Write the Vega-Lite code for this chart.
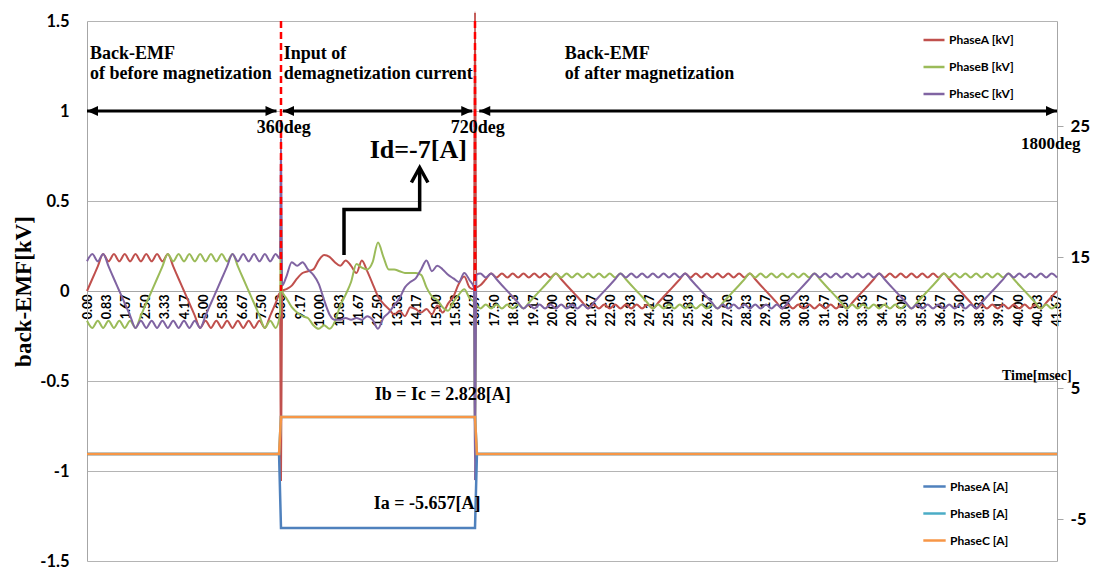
{
"$schema": "https://vega.github.io/schema/vega-lite/v6.json",
"width": 970, "height": 540,
"autosize": "none",
"padding": {"left": 87, "top": 21, "right": 54, "bottom": 7},
"background": "white",
"config": {"view": {"stroke": null}},
"datasets": {
"emf": [
{"t":0,"a":0,"b":-0.165,"c":0.165},
{"t":0.231,"a":0.068,"b":-0.205,"c":0.205},
{"t":0.463,"a":0.137,"b":-0.165,"c":0.165},
{"t":0.694,"a":0.205,"b":-0.205,"c":0.205},
{"t":0.926,"a":0.165,"b":-0.165,"c":0.137},
{"t":1.157,"a":0.205,"b":-0.205,"c":0.068},
{"t":1.389,"a":0.165,"b":-0.165,"c":0},
{"t":1.620,"a":0.205,"b":-0.205,"c":-0.068},
{"t":1.852,"a":0.165,"b":-0.165,"c":-0.137},
{"t":2.083,"a":0.205,"b":-0.205,"c":-0.205},
{"t":2.315,"a":0.165,"b":-0.137,"c":-0.165},
{"t":2.546,"a":0.205,"b":-0.068,"c":-0.205},
{"t":2.778,"a":0.165,"b":0,"c":-0.165},
{"t":3.009,"a":0.205,"b":0.068,"c":-0.205},
{"t":3.241,"a":0.165,"b":0.137,"c":-0.165},
{"t":3.472,"a":0.205,"b":0.205,"c":-0.205},
{"t":3.704,"a":0.137,"b":0.165,"c":-0.165},
{"t":3.935,"a":0.068,"b":0.205,"c":-0.205},
{"t":4.167,"a":0,"b":0.165,"c":-0.165},
{"t":4.398,"a":-0.068,"b":0.205,"c":-0.205},
{"t":4.630,"a":-0.137,"b":0.165,"c":-0.165},
{"t":4.861,"a":-0.205,"b":0.205,"c":-0.205},
{"t":5.093,"a":-0.165,"b":0.165,"c":-0.137},
{"t":5.324,"a":-0.205,"b":0.205,"c":-0.068},
{"t":5.556,"a":-0.165,"b":0.165,"c":0},
{"t":5.787,"a":-0.205,"b":0.205,"c":0.068},
{"t":6.019,"a":-0.165,"b":0.165,"c":0.137},
{"t":6.250,"a":-0.205,"b":0.205,"c":0.205},
{"t":6.481,"a":-0.165,"b":0.137,"c":0.165},
{"t":6.713,"a":-0.205,"b":0.068,"c":0.205},
{"t":6.944,"a":-0.165,"b":0,"c":0.165},
{"t":7.176,"a":-0.205,"b":-0.068,"c":0.205},
{"t":7.407,"a":-0.165,"b":-0.137,"c":0.165},
{"t":7.639,"a":-0.205,"b":-0.205,"c":0.205},
{"t":7.870,"a":-0.137,"b":-0.165,"c":0.165},
{"t":8.102,"a":-0.068,"b":-0.205,"c":0.205},
{"t":8.29,"a":-0.01,"b":-0.13,"c":0.18},
{"t":8.333,"a":-1.05,"b":0.5,"c":0.85},
{"t":8.38,"a":0,"b":0,"c":0.03},
{"t":8.565,"a":0.01,"b":-0.04,"c":0.08},
{"t":8.796,"a":0.03,"b":-0.09,"c":0.16},
{"t":9.028,"a":0.07,"b":-0.12,"c":0.14},
{"t":9.259,"a":0.10,"b":-0.14,"c":0.16},
{"t":9.491,"a":0.11,"b":-0.15,"c":0.12},
{"t":9.722,"a":0.12,"b":-0.19,"c":0.09},
{"t":9.954,"a":0.17,"b":-0.21,"c":0.04},
{"t":10.185,"a":0.20,"b":-0.19,"c":-0.05},
{"t":10.417,"a":0.19,"b":-0.21,"c":-0.13},
{"t":10.648,"a":0.16,"b":-0.17,"c":-0.16},
{"t":10.880,"a":0.14,"b":-0.08,"c":-0.16},
{"t":11.111,"a":0.17,"b":-0.02,"c":-0.15},
{"t":11.343,"a":0.14,"b":0.05,"c":-0.16},
{"t":11.574,"a":0.10,"b":0.15,"c":-0.15},
{"t":11.806,"a":0.17,"b":0.13,"c":-0.16},
{"t":12.037,"a":0.11,"b":0.12,"c":-0.14},
{"t":12.269,"a":0.04,"b":0.16,"c":-0.16},
{"t":12.500,"a":-0.03,"b":0.27,"c":-0.21},
{"t":12.731,"a":-0.07,"b":0.19,"c":-0.15},
{"t":12.963,"a":-0.10,"b":0.12,"c":-0.12},
{"t":13.194,"a":-0.13,"b":0.12,"c":-0.08},
{"t":13.426,"a":-0.11,"b":0.11,"c":-0.04},
{"t":13.657,"a":-0.14,"b":0.10,"c":0.02},
{"t":13.889,"a":-0.09,"b":0.10,"c":0.05},
{"t":14.120,"a":-0.10,"b":0.10,"c":0.07},
{"t":14.352,"a":-0.12,"b":0.09,"c":0.12},
{"t":14.583,"a":-0.10,"b":0.02,"c":0.17},
{"t":14.815,"a":-0.13,"b":-0.03,"c":0.11},
{"t":15.046,"a":-0.08,"b":-0.05,"c":0.14},
{"t":15.278,"a":-0.12,"b":-0.09,"c":0.12},
{"t":15.509,"a":-0.07,"b":-0.11,"c":0.09},
{"t":15.741,"a":-0.03,"b":-0.06,"c":0.07},
{"t":15.972,"a":0.04,"b":-0.02,"c":0.05},
{"t":16.204,"a":0.08,"b":0.01,"c":0.10},
{"t":16.435,"a":0.02,"b":-0.04,"c":0.06},
{"t":16.62,"a":0.01,"b":-0.06,"c":0.02},
{"t":16.667,"a":1.55,"b":-0.85,"c":-1.05},
{"t":16.72,"a":0.02,"b":-0.08,"c":0.09},
{"t":16.898,"a":0.032,"b":-0.097,"c":0.097},
{"t":17.130,"a":0.065,"b":-0.075,"c":0.075},
{"t":17.361,"a":0.097,"b":-0.097,"c":0.097},
{"t":17.593,"a":0.075,"b":-0.075,"c":0.065},
{"t":17.824,"a":0.097,"b":-0.097,"c":0.032},
{"t":18.056,"a":0.075,"b":-0.075,"c":0},
{"t":18.287,"a":0.097,"b":-0.097,"c":-0.032},
{"t":18.519,"a":0.075,"b":-0.075,"c":-0.065},
{"t":18.750,"a":0.097,"b":-0.097,"c":-0.097},
{"t":18.981,"a":0.075,"b":-0.065,"c":-0.075},
{"t":19.213,"a":0.097,"b":-0.032,"c":-0.097},
{"t":19.444,"a":0.075,"b":0,"c":-0.075},
{"t":19.676,"a":0.097,"b":0.032,"c":-0.097},
{"t":19.907,"a":0.075,"b":0.065,"c":-0.075},
{"t":20.139,"a":0.097,"b":0.097,"c":-0.097},
{"t":20.370,"a":0.065,"b":0.075,"c":-0.075},
{"t":20.602,"a":0.032,"b":0.097,"c":-0.097},
{"t":20.833,"a":0,"b":0.075,"c":-0.075},
{"t":21.065,"a":-0.032,"b":0.097,"c":-0.097},
{"t":21.296,"a":-0.065,"b":0.075,"c":-0.075},
{"t":21.528,"a":-0.097,"b":0.097,"c":-0.097},
{"t":21.759,"a":-0.075,"b":0.075,"c":-0.065},
{"t":21.991,"a":-0.097,"b":0.097,"c":-0.032},
{"t":22.222,"a":-0.075,"b":0.075,"c":0},
{"t":22.454,"a":-0.097,"b":0.097,"c":0.032},
{"t":22.685,"a":-0.075,"b":0.075,"c":0.065},
{"t":22.917,"a":-0.097,"b":0.097,"c":0.097},
{"t":23.148,"a":-0.075,"b":0.065,"c":0.075},
{"t":23.380,"a":-0.097,"b":0.032,"c":0.097},
{"t":23.611,"a":-0.075,"b":0,"c":0.075},
{"t":23.843,"a":-0.097,"b":-0.032,"c":0.097},
{"t":24.074,"a":-0.075,"b":-0.065,"c":0.075},
{"t":24.306,"a":-0.097,"b":-0.097,"c":0.097},
{"t":24.537,"a":-0.065,"b":-0.075,"c":0.075},
{"t":24.769,"a":-0.032,"b":-0.097,"c":0.097},
{"t":25.000,"a":0,"b":-0.075,"c":0.075},
{"t":25.231,"a":0.032,"b":-0.097,"c":0.097},
{"t":25.463,"a":0.065,"b":-0.075,"c":0.075},
{"t":25.694,"a":0.097,"b":-0.097,"c":0.097},
{"t":25.926,"a":0.075,"b":-0.075,"c":0.065},
{"t":26.157,"a":0.097,"b":-0.097,"c":0.032},
{"t":26.389,"a":0.075,"b":-0.075,"c":0},
{"t":26.620,"a":0.097,"b":-0.097,"c":-0.032},
{"t":26.852,"a":0.075,"b":-0.075,"c":-0.065},
{"t":27.083,"a":0.097,"b":-0.097,"c":-0.097},
{"t":27.315,"a":0.075,"b":-0.065,"c":-0.075},
{"t":27.546,"a":0.097,"b":-0.032,"c":-0.097},
{"t":27.778,"a":0.075,"b":0,"c":-0.075},
{"t":28.009,"a":0.097,"b":0.032,"c":-0.097},
{"t":28.241,"a":0.075,"b":0.065,"c":-0.075},
{"t":28.472,"a":0.097,"b":0.097,"c":-0.097},
{"t":28.704,"a":0.065,"b":0.075,"c":-0.075},
{"t":28.935,"a":0.032,"b":0.097,"c":-0.097},
{"t":29.167,"a":0,"b":0.075,"c":-0.075},
{"t":29.398,"a":-0.032,"b":0.097,"c":-0.097},
{"t":29.630,"a":-0.065,"b":0.075,"c":-0.075},
{"t":29.861,"a":-0.097,"b":0.097,"c":-0.097},
{"t":30.093,"a":-0.075,"b":0.075,"c":-0.065},
{"t":30.324,"a":-0.097,"b":0.097,"c":-0.032},
{"t":30.556,"a":-0.075,"b":0.075,"c":0},
{"t":30.787,"a":-0.097,"b":0.097,"c":0.032},
{"t":31.019,"a":-0.075,"b":0.075,"c":0.065},
{"t":31.250,"a":-0.097,"b":0.097,"c":0.097},
{"t":31.481,"a":-0.075,"b":0.065,"c":0.075},
{"t":31.713,"a":-0.097,"b":0.032,"c":0.097},
{"t":31.944,"a":-0.075,"b":0,"c":0.075},
{"t":32.176,"a":-0.097,"b":-0.032,"c":0.097},
{"t":32.407,"a":-0.075,"b":-0.065,"c":0.075},
{"t":32.639,"a":-0.097,"b":-0.097,"c":0.097},
{"t":32.870,"a":-0.065,"b":-0.075,"c":0.075},
{"t":33.102,"a":-0.032,"b":-0.097,"c":0.097},
{"t":33.333,"a":0,"b":-0.075,"c":0.075},
{"t":33.565,"a":0.032,"b":-0.097,"c":0.097},
{"t":33.796,"a":0.065,"b":-0.075,"c":0.075},
{"t":34.028,"a":0.097,"b":-0.097,"c":0.097},
{"t":34.259,"a":0.075,"b":-0.075,"c":0.065},
{"t":34.491,"a":0.097,"b":-0.097,"c":0.032},
{"t":34.722,"a":0.075,"b":-0.075,"c":0},
{"t":34.954,"a":0.097,"b":-0.097,"c":-0.032},
{"t":35.185,"a":0.075,"b":-0.075,"c":-0.065},
{"t":35.417,"a":0.097,"b":-0.097,"c":-0.097},
{"t":35.648,"a":0.075,"b":-0.065,"c":-0.075},
{"t":35.880,"a":0.097,"b":-0.032,"c":-0.097},
{"t":36.111,"a":0.075,"b":0,"c":-0.075},
{"t":36.343,"a":0.097,"b":0.032,"c":-0.097},
{"t":36.574,"a":0.075,"b":0.065,"c":-0.075},
{"t":36.806,"a":0.097,"b":0.097,"c":-0.097},
{"t":37.037,"a":0.065,"b":0.075,"c":-0.075},
{"t":37.269,"a":0.032,"b":0.097,"c":-0.097},
{"t":37.500,"a":0,"b":0.075,"c":-0.075},
{"t":37.731,"a":-0.032,"b":0.097,"c":-0.097},
{"t":37.963,"a":-0.065,"b":0.075,"c":-0.075},
{"t":38.194,"a":-0.097,"b":0.097,"c":-0.097},
{"t":38.426,"a":-0.075,"b":0.075,"c":-0.065},
{"t":38.657,"a":-0.097,"b":0.097,"c":-0.032},
{"t":38.889,"a":-0.075,"b":0.075,"c":0},
{"t":39.120,"a":-0.097,"b":0.097,"c":0.032},
{"t":39.352,"a":-0.075,"b":0.075,"c":0.065},
{"t":39.583,"a":-0.097,"b":0.097,"c":0.097},
{"t":39.815,"a":-0.075,"b":0.065,"c":0.075},
{"t":40.046,"a":-0.097,"b":0.032,"c":0.097},
{"t":40.278,"a":-0.075,"b":0,"c":0.075},
{"t":40.509,"a":-0.097,"b":-0.032,"c":0.097},
{"t":40.741,"a":-0.075,"b":-0.065,"c":0.075},
{"t":40.972,"a":-0.097,"b":-0.097,"c":0.097},
{"t":41.204,"a":-0.065,"b":-0.075,"c":0.075},
{"t":41.435,"a":-0.032,"b":-0.097,"c":0.097},
{"t":41.667,"a":0,"b":-0.075,"c":0.075}
],
"cur": [
{"t":0,"p":"A","i":0},{"t":8.25,"p":"A","i":0},{"t":8.333,"p":"A","i":-5.657},{"t":16.667,"p":"A","i":-5.657},{"t":16.75,"p":"A","i":0},{"t":41.667,"p":"A","i":0},
{"t":0,"p":"B","i":0},{"t":8.25,"p":"B","i":0},{"t":8.333,"p":"B","i":2.828},{"t":16.667,"p":"B","i":2.828},{"t":16.75,"p":"B","i":0},{"t":41.667,"p":"B","i":0},
{"t":0,"p":"C","i":0},{"t":8.25,"p":"C","i":0},{"t":8.333,"p":"C","i":2.828},{"t":16.667,"p":"C","i":2.828},{"t":16.75,"p":"C","i":0},{"t":41.667,"p":"C","i":0}
]
},
"encoding": {
"x": {"field": "t", "type": "quantitative", "scale": {"domain": [0, 41.667], "nice": false, "zero": false},
"axis": {"orient": "bottom", "offset": -270, "values": [0, 0.8333, 1.6667, 2.5, 3.3333, 4.1667, 5, 5.8333, 6.6667, 7.5, 8.3333, 9.1667, 10, 10.8333, 11.6667, 12.5, 13.3333, 14.1667, 15, 15.8333, 16.6667, 17.5, 18.3333, 19.1667, 20, 20.8333, 21.6667, 22.5, 23.3333, 24.1667, 25, 25.8333, 26.6667, 27.5, 28.3333, 29.1667, 30, 30.8333, 31.6667, 32.5, 33.3333, 34.1667, 35, 35.8333, 36.6667, 37.5, 38.3333, 39.1667, 40, 40.8333, 41.6667], "format": ".2f", "labelAngle": -90, "labelAlign": "right", "labelBaseline": "middle", "labelFont": "Lato", "labelFontWeight": "bold", "labelFontSize": 12.5, "labelColor": "#000000", "labelPadding": 3, "labelOverlap": false, "labelFlush": false, "ticks": false, "domain": true, "domainColor": "#a6a6a6", "grid": false, "title": null}}
},
"layer": [
{
"data": {"name": "emf"},
"transform": [{"fold": ["a", "b", "c"], "as": ["s", "v"]}],
"mark": {"type": "line", "strokeWidth": 2, "interpolate": "monotone"},
"encoding": {
"y": {"field": "v", "type": "quantitative", "scale": {"domain": [-1.5, 1.5], "nice": false, "zero": false},
"axis": {"orient": "left", "values": [-1.5, -1, -0.5, 0, 0.5, 1, 1.5], "labelExpr": "'' + datum.value", "grid": true, "gridColor": "#b4b4b4", "gridWidth": 1, "domain": true, "domainColor": "#a6a6a6", "ticks": false, "labelPadding": 18, "labelFont": "Lato", "labelFontWeight": "bold", "labelFontSize": 16.5, "labelColor": "#000000", "title": "back-EMF[kV]", "titleFont": "Liberation Serif", "titleFontSize": 23, "titleFontWeight": "bold", "titleColor": "#000000", "titlePadding": 4}},
"color": {"field": "s", "type": "nominal", "scale": {"domain": ["a", "b", "c"], "range": ["#C0504D", "#9BBB59", "#8064A2"]},
"legend": {"orient": "none", "legendX": 835, "legendY": 7, "title": null, "padding": 0, "symbolType": "stroke", "symbolStrokeWidth": 2.5, "symbolSize": 441, "labelFont": "Lato", "labelFontWeight": "bold", "labelFontSize": 12, "labelColor": "#000000", "labelOffset": 3, "rowPadding": 9, "labelExpr": "datum.label == 'a' ? 'PhaseA [kV]' : datum.label == 'b' ? 'PhaseB [kV]' : 'PhaseC [kV]'"}}
}
},
{
"data": {"name": "cur"},
"mark": {"type": "line", "strokeWidth": 2.5},
"encoding": {
"y": {"field": "i", "type": "quantitative", "scale": {"domain": [-8.17, 33.05], "nice": false, "zero": false},
"axis": {"orient": "right", "values": [-5, 5, 15, 25], "labelExpr": "'' + datum.value", "grid": false, "domain": true, "domainColor": "#a6a6a6", "ticks": true, "tickColor": "#a6a6a6", "tickSize": 6, "labelPadding": 7, "labelFont": "Lato", "labelFontWeight": "bold", "labelFontSize": 17, "labelColor": "#000000", "title": null}},
"color": {"field": "p", "type": "nominal", "scale": {"domain": ["A", "B", "C"], "range": ["#4F81BD", "#4BACC6", "#F79646"]},
"legend": {"orient": "none", "legendX": 835, "legendY": 453, "title": null, "padding": 0, "symbolType": "stroke", "symbolStrokeWidth": 2.5, "symbolSize": 500, "labelFont": "Lato", "labelFontWeight": "bold", "labelFontSize": 12, "labelColor": "#000000", "labelOffset": 3, "rowPadding": 8, "labelExpr": "datum.label == 'A' ? 'PhaseA [A]' : datum.label == 'B' ? 'PhaseB [A]' : 'PhaseC [A]'"}}
}
},
{
"data": {"values": [{"t": 8.3333}, {"t": 16.6667}]},
"mark": {"type": "rule", "color": "#FF0000", "strokeWidth": 2.5, "strokeDash": [7, 4]},
"encoding": {
"y": {"datum": 1.5, "type": "quantitative", "scale": {"domain": [-1.5, 1.5], "nice": false, "zero": false}, "axis": null},
"y2": {"datum": 0}
}
},
{
"data": {"values": [{"t": 0, "t2": 8.14}, {"t": 8.42, "t2": 16.55}, {"t": 16.85, "t2": 41.667}]},
"mark": {"type": "rule", "color": "#000000", "strokeWidth": 3},
"encoding": {
"x2": {"field": "t2"},
"y": {"datum": 1, "type": "quantitative", "scale": {"domain": [-1.5, 1.5], "nice": false, "zero": false}, "axis": null}
}
},
{
"data": {"values": [{"t": 8.14}, {"t": 16.55}, {"t": 41.667}]},
"mark": {"type": "point", "shape": "M0,0L-1,-0.45L-1,0.45Z", "size": 484, "filled": true, "color": "#000000", "opacity": 1},
"encoding": {
"y": {"datum": 1, "type": "quantitative", "scale": {"domain": [-1.5, 1.5], "nice": false, "zero": false}, "axis": null}
}
},
{
"data": {"values": [{"t": 0}, {"t": 8.42}, {"t": 16.85}]},
"mark": {"type": "point", "shape": "M0,0L1,-0.45L1,0.45Z", "size": 484, "filled": true, "color": "#000000", "opacity": 1},
"encoding": {
"y": {"datum": 1, "type": "quantitative", "scale": {"domain": [-1.5, 1.5], "nice": false, "zero": false}, "axis": null}
}
},
{
"data": {"values": [{"t": 11.04, "y": 0.2, "o": 1}, {"t": 11.04, "y": 0.453, "o": 2}, {"t": 14.29, "y": 0.453, "o": 3}, {"t": 14.29, "y": 0.675, "o": 4}]},
"mark": {"type": "line", "color": "#000000", "strokeWidth": 3.5, "strokeJoin": "miter"},
"encoding": {
"y": {"field": "y", "type": "quantitative", "scale": {"domain": [-1.5, 1.5], "nice": false, "zero": false}, "axis": null},
"order": {"field": "o", "type": "quantitative"}
}
},
{
"data": {"values": [{"t": 14.29, "y": 0.686}]},
"mark": {"type": "point", "shape": "M-0.55,1L0,0L0.55,1", "size": 900, "filled": false, "stroke": "#000000", "strokeWidth": 3.5, "opacity": 1},
"encoding": {
"y": {"field": "y", "type": "quantitative", "scale": {"domain": [-1.5, 1.5], "nice": false, "zero": false}, "axis": null}
}
},
{
"data": {"values": [
{"t": 0.13, "y": 1.319, "txt": "Back-EMF"},
{"t": 0.13, "y": 1.203, "txt": "of before magnetization"},
{"t": 8.45, "y": 1.319, "txt": "Input of"},
{"t": 8.45, "y": 1.203, "txt": "demagnetization current"},
{"t": 20.52, "y": 1.319, "txt": "Back-EMF"},
{"t": 20.52, "y": 1.203, "txt": "of after magnetization"}
]},
"mark": {"type": "text", "align": "left", "baseline": "middle", "font": "Liberation Serif", "fontWeight": "bold", "fontSize": 18, "color": "#000000"},
"encoding": {
"y": {"field": "y", "type": "quantitative", "scale": {"domain": [-1.5, 1.5], "nice": false, "zero": false}, "axis": null},
"text": {"field": "txt"}
}
},
{
"data": {"values": [
{"t": 8.45, "y": 0.903, "txt": "360deg"},
{"t": 16.78, "y": 0.903, "txt": "720deg"},
{"t": 15.28, "y": -0.575, "txt": "Ib = Ic = 2.828[A]"},
{"t": 14.61, "y": -1.186, "txt": "Ia = -5.657[A]"}
]},
"mark": {"type": "text", "align": "center", "baseline": "middle", "font": "Liberation Serif", "fontWeight": "bold", "fontSize": 18, "color": "#000000"},
"encoding": {
"y": {"field": "y", "type": "quantitative", "scale": {"domain": [-1.5, 1.5], "nice": false, "zero": false}, "axis": null},
"text": {"field": "txt"}
}
},
{
"data": {"values": [{"t": 41.4, "y": 0.818, "txt": "1800deg"}]},
"mark": {"type": "text", "align": "center", "baseline": "middle", "font": "Liberation Serif", "fontWeight": "bold", "fontSize": 17, "color": "#000000"},
"encoding": {
"y": {"field": "y", "type": "quantitative", "scale": {"domain": [-1.5, 1.5], "nice": false, "zero": false}, "axis": null},
"text": {"field": "txt"}
}
},
{
"data": {"values": [{"t": 14.23, "y": 0.786, "txt": "Id=-7[A]"}]},
"mark": {"type": "text", "align": "center", "baseline": "middle", "font": "Liberation Serif", "fontWeight": "bold", "fontSize": 26, "color": "#000000"},
"encoding": {
"y": {"field": "y", "type": "quantitative", "scale": {"domain": [-1.5, 1.5], "nice": false, "zero": false}, "axis": null},
"text": {"field": "txt"}
}
},
{
"data": {"values": [{"t": 40.8, "y": -0.47, "txt": "Time[msec]"}]},
"mark": {"type": "text", "align": "center", "baseline": "middle", "font": "Liberation Serif", "fontWeight": "bold", "fontSize": 14, "color": "#000000"},
"encoding": {
"y": {"field": "y", "type": "quantitative", "scale": {"domain": [-1.5, 1.5], "nice": false, "zero": false}, "axis": null},
"text": {"field": "txt"}
}
}
],
"resolve": {"scale": {"y": "independent", "color": "independent"}}
}
